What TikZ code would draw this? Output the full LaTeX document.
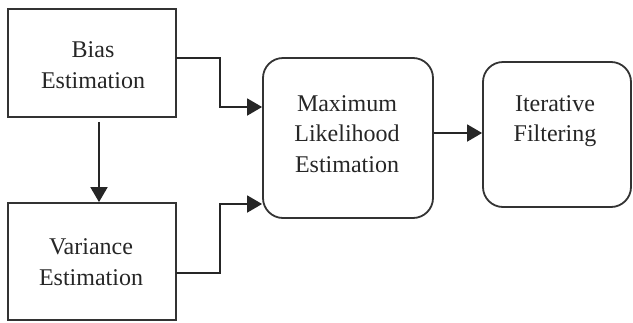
\documentclass[tikz,border=0pt]{standalone}
\usepackage{fontspec}
\setmainfont{Liberation Serif}
\usetikzlibrary{arrows.meta}
\begin{document}
\begin{tikzpicture}[x=1pt,y=-1pt,
  box/.style={draw=black!80,line width=1.8pt,inner sep=0pt},
  rbox/.style={box,rounded corners=20pt},
  lbl/.style={align=center,font=\fontsize{24}{30.5}\selectfont,text=black!85,inner sep=0pt},
  conn/.style={draw=black!85,line width=1.8pt,-{Triangle[length=15pt,width=17pt]}}]
\useasboundingbox (0,0) rectangle (633,322);
\node[box,minimum width=168pt,minimum height=108pt] (bias) at (92,63) {};
\node[lbl] at (93,65) {Bias\\Estimation};
\node[box,minimum width=168pt,minimum height=117pt] (var) at (92,261.5) {};
\node[lbl] at (91,262) {Variance\\Estimation};
\node[rbox,minimum width=170pt,minimum height=160pt] (mle) at (348,138) {};
\node[lbl] at (347,134) {Maximum\\Likelihood\\Estimation};
\node[rbox,minimum width=148pt,minimum height=145pt] (iter) at (557,134.5) {};
\node[lbl] at (555,121) {Iterative\\Filtering};
\coordinate (b1) at (176,58);
\coordinate (v1) at (176,273);
\draw[conn] (bias.south) ++(7,4) -- (var.north -| 99,0);
\draw[conn] (b1) -- (220,58) -- (220,107) -- (mle.west |- 0,107);
\draw[conn] (v1) -- (220,273) -- (220,204) -- (mle.west |- 0,204);
\draw[conn] (mle.east |- 0,133) -- (iter.west |- 0,133);
\end{tikzpicture}
\end{document}
